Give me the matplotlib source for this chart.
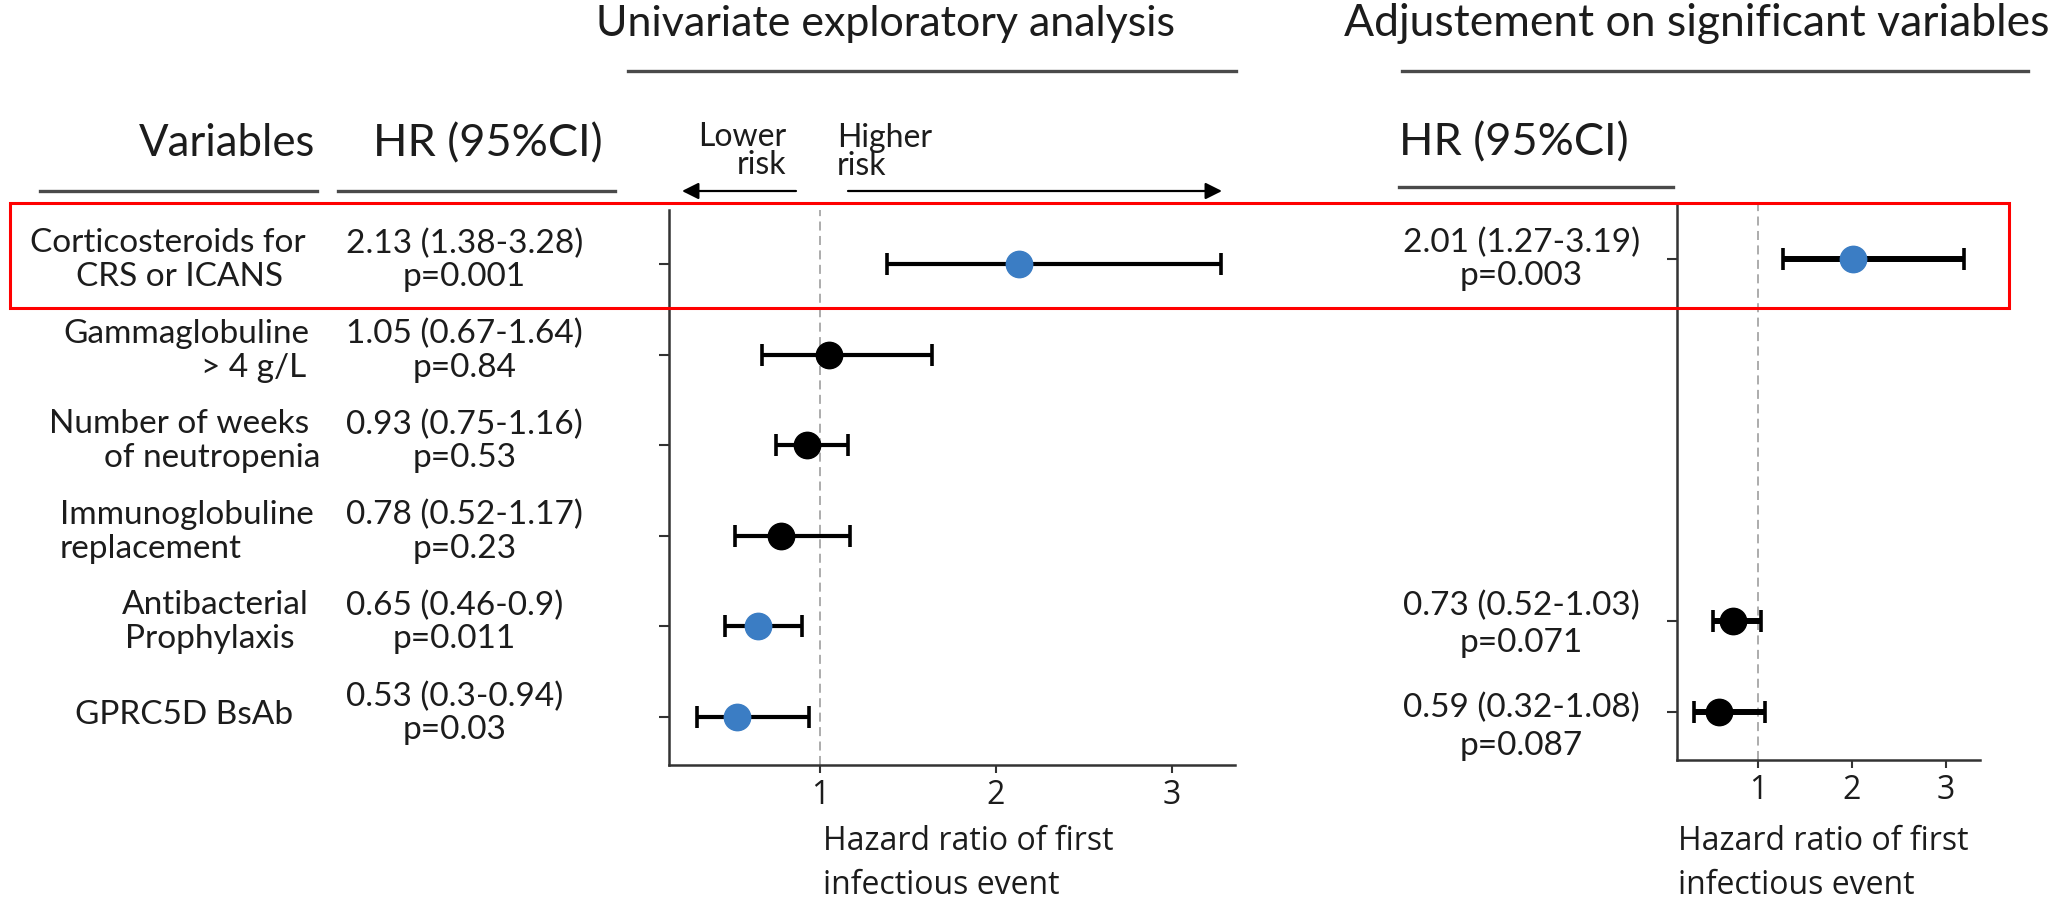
import matplotlib
matplotlib.use("Agg")
import matplotlib.pyplot as plt
from matplotlib.lines import Line2D
from matplotlib.patches import Rectangle, FancyArrowPatch

plt.rcParams["font.family"] = ["Lato", "DejaVu Sans"]

W, H = 2059, 902          # canvas in pixels (dpi 100)
INK = "#1c1c1c"
BLUE = "#3b7dc4"

# ── Data ──────────────────────────────────────────────────────────────────────
label_lines = [
    ("Corticosteroids for", "CRS or ICANS"),
    ("Gammaglobuline", "> 4 g/L"),
    ("Number of weeks", "of neutropenia"),
    ("Immunoglobuline", "replacement"),
    ("Antibacterial", "Prophylaxis"),
    ("GPRC5D BsAb",),
]

uni_hr = [2.13, 1.05, 0.93, 0.78, 0.65, 0.53]
uni_lo = [1.38, 0.67, 0.75, 0.52, 0.46, 0.30]
uni_hi = [3.28, 1.64, 1.16, 1.17, 0.90, 0.94]
uni_p = ["0.001", "0.84", "0.53", "0.23", "0.011", "0.03"]

adj_rows = [0, 4, 5]      # which variables were kept in the adjusted model
adj_hr = [2.01, 0.73, 0.59]
adj_lo = [1.27, 0.52, 0.32]
adj_hi = [3.19, 1.03, 1.08]
adj_p = ["0.003", "0.071", "0.087"]

x_ticks = [1, 2, 3]

# ── Layout helpers (pixel coords, origin top-left) ────────────────────────────
def fx(x):
    return x / W


def fy(y):
    return 1 - y / H


def hline(fig, x0, x1, y, lw=2.4, color="#4a4a4a"):
    fig.add_artist(Line2D([fx(x0), fx(x1)], [fy(y), fy(y)],
                          transform=fig.transFigure, lw=lw, color=color))


def put(fig, x, y, s, size, ha="left", family=None, **kw):
    if family is not None:
        kw["family"] = family
    fig.text(fx(x), fy(y), s, fontsize=size, ha=ha, va="center",
             color=INK, **kw)


n = len(label_lines)
ypos = [n - i for i in range(n)]          # top row first


def forest(ax, rows, hr, lo, hi, p, elw):
    for r, h, l, u, pv in zip(rows, hr, lo, hi, p):
        col = BLUE if float(pv) < 0.05 else "black"
        ax.errorbar(h, ypos[r], xerr=[[h - l], [u - h]], fmt="o",
                    ms=19, mfc=col, mec=col, ecolor="black",
                    elinewidth=elw, capsize=8, capthick=2.6, zorder=3)
    ax.axvline(1, color="#a6a6a6", ls=(0, (5, 3)), lw=1.3, zorder=1)
    ax.set_xlim(0.14, 3.36)
    ax.set_ylim(0.47, 6.6)
    ax.set_xticks(x_ticks)
    ax.set_xticklabels([str(t) for t in x_ticks], family="Open Sans",
                       fontsize=23, color=INK)
    ax.set_yticks([ypos[r] for r in rows])
    ax.set_yticklabels([])
    for s in ("top", "right"):
        ax.spines[s].set_visible(False)
    for s in ("left", "bottom"):
        ax.spines[s].set_linewidth(1.8)
        ax.spines[s].set_color("#333333")
    ax.tick_params(axis="y", length=7.5, width=1.5, color="#333333")
    ax.tick_params(axis="x", length=6, width=1.5, color="#333333", pad=4)


def hr_text(h, l, u, pv):
    return f"{h:.2f} ({l:g}-{u:g})\np={pv}"


fig = plt.figure(figsize=(W / 100, H / 100), dpi=100)

ax_u = fig.add_axes([fx(668.5), fy(765), fx(1235) - fx(668.5), (765 - 210) / H])
ax_a = fig.add_axes([fx(1677), fy(760), fx(1980) - fx(1677), (760 - 205) / H])

forest(ax_u, range(n), uni_hr, uni_lo, uni_hi, uni_p, elw=3.0)
forest(ax_a, adj_rows, adj_hr, adj_lo, adj_hi, adj_p, elw=4.3)

# ── Section titles and column headers ─────────────────────────────────────────
put(fig, 885, 24, "Univariate exploratory analysis", 31, ha="center")
hline(fig, 628, 1236, 71)
put(fig, 1697, 24, "Adjustement on significant variables", 32, ha="center")
hline(fig, 1402, 2028, 71)

put(fig, 315, 144, "Variables", 31.5, ha="right")
hline(fig, 40, 317, 191)
put(fig, 488, 144, "HR (95%CI)", 32.5, ha="center")
hline(fig, 338, 615, 191)
put(fig, 1514, 143, "HR (95%CI)", 32.5, ha="center")
hline(fig, 1399, 1673, 187)

# direction of effect
put(fig, 786, 151, "Lower\nrisk", 23, ha="right", multialignment="right",
    linespacing=0.88)
put(fig, 837, 152, "Higher\nrisk", 23, ha="left", multialignment="left",
    linespacing=0.9)
for x0, x1 in ((796, 682), (848, 1222)):
    fig.add_artist(FancyArrowPatch((fx(x0), fy(191)), (fx(x1), fy(191)),
                                   transform=fig.transFigure,
                                   arrowstyle="-|>,head_length=0.5,head_width=0.25",
                                   mutation_scale=20, lw=1.6, color="black",
                                   shrinkA=0, shrinkB=0))

# ── Row labels and HR columns ─────────────────────────────────────────────────
label_layout = [
    [(168, "center"), (180, "center")],
    [(309, "right"), (306, "right")],
    [(309, "right"), (320, "right")],
    [(60, "left"), (60, "left")],
    [(122, "left"), (125, "left")],
    [(184, "center")],
]
adj_text_dy = [0, 3, 15]
adj_spacing = [1.15, 1.3, 1.3]


def row_px(ax, r):
    # display y (pixels from bottom) of a row -> pixels from top
    return H - ax.transData.transform((1, ypos[r]))[1]


for i, (lines, lay) in enumerate(zip(label_lines, label_layout)):
    yc = row_px(ax_u, i)
    offs = [-2] if len(lines) == 1 else [-21, 13]
    for s, (x, ha), dy in zip(lines, lay, offs):
        put(fig, x, yc + dy, s, 24, ha=ha)

for i in range(n):
    yc = row_px(ax_u, i)
    put(fig, 346, yc - 4, hr_text(uni_hr[i], uni_lo[i], uni_hi[i], uni_p[i]),
        24, multialignment="center", linespacing=1.13)

for k, r in enumerate(adj_rows):
    yc = row_px(ax_a, r)
    put(fig, 1403, yc + adj_text_dy[k],
        hr_text(adj_hr[k], adj_lo[k], adj_hi[k], adj_p[k]),
        24, multialignment="center", linespacing=adj_spacing[k])

# x-axis captions
for x0 in (823, 1678):
    put(fig, x0, 841, "Hazard ratio of first", 23, family="Open Sans")
    put(fig, x0, 885, "infectious event", 23, family="Open Sans")

# highlight box around the corticosteroid row
fig.add_artist(Rectangle((fx(10), fy(308)), fx(2009) - fx(10), (308 - 203) / H,
                         transform=fig.transFigure, fill=False,
                         ec="#ff0000", lw=2.2, zorder=10))

fig.savefig("out.png", dpi=100)
